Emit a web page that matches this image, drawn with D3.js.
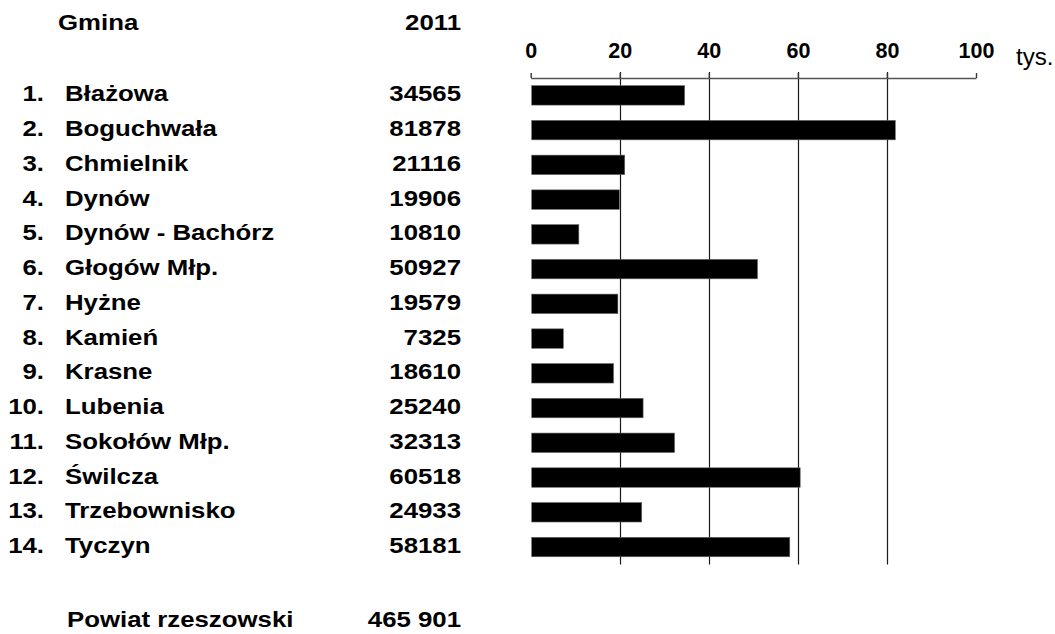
<!DOCTYPE html>
<html>
<head>
<meta charset="utf-8">
<script src="https://cdn.jsdelivr.net/npm/d3@7"></script>
<style>
  html, body { margin: 0; padding: 0; background: #fff; }
  svg { display: block; }
  text { font-family: "Liberation Sans", Arial, sans-serif; fill: #000; }
</style>
</head>
<body>
<svg id="chart" width="1055" height="634"></svg>
<script>
// ---- data ----
const ranks = ["1.", "2.", "3.", "4.", "5.", "6.", "7.", "8.", "9.", "10.", "11.", "12.", "13.", "14."];
const gminy = ["Błażowa", "Boguchwała", "Chmielnik", "Dynów", "Dynów - Bachórz", "Głogów Młp.", "Hyżne",
               "Kamień", "Krasne", "Lubenia", "Sokołów Młp.", "Świlcza", "Trzebownisko", "Tyczyn"];
const values2011 = [34565, 81878, 21116, 19906, 10810, 50927, 19579, 7325, 18610, 25240, 32313, 60518, 24933, 58181];
const tickValues = [0, 20, 40, 60, 80, 100];
const headerName = "Gmina";
const headerYear = "2011";
const unitLabel = "tys.";
const totalName = "Powiat rzeszowski";
const totalValue = "465 901";

// ---- layout ----
const svg = d3.select("#chart");
const SX = 1.2;       // horizontal stretch of the table text
const FS = 21.5;      // table font size

const x = d3.scaleLinear().domain([0, 100]).range([530.7, 976]);
const y = d3.scaleBand().domain(gminy).range([78, 564.4]).paddingInner(0.44).paddingOuter(0.22);

function stretchedText(px, py, str, anchor, opts = {}) {
  const g = svg.append("g").attr("transform", `translate(${px},${py}) scale(${opts.sx || SX},1)`);
  g.append("text")
    .attr("text-anchor", anchor)
    .attr("font-size", opts.fs || FS)
    .attr("font-weight", opts.weight || "bold")
    .text(str);
  return g;
}

// header
stretchedText(58, 30, headerName, "start");
stretchedText(461, 30, headerYear, "end");

// rows
gminy.forEach((g, i) => {
  const cy = y(g) + y.bandwidth() / 2 + 6;
  stretchedText(44, cy, ranks[i], "end");
  stretchedText(65, cy, g, "start");
  stretchedText(461, cy, String(values2011[i]), "end");
});

// footer
stretchedText(67, 627, totalName, "start");
stretchedText(461, 627, totalValue, "end");

// gridlines (20..80)
svg.append("g").selectAll("line")
  .data(tickValues.filter(d => d > 0 && d < 100))
  .join("line")
  .attr("x1", d => Math.round(x(d)) + 0.5)
  .attr("x2", d => Math.round(x(d)) + 0.5)
  .attr("y1", 72)
  .attr("y2", 564.4)
  .attr("stroke", "#1a1a1a")
  .attr("stroke-width", 1.2);

// axis at top
const axis = d3.axisTop(x).tickValues(tickValues).tickSize(5).tickSizeOuter(0).tickPadding(15);
const ag = svg.append("g").attr("transform", "translate(0,78)").call(axis);
ag.select(".domain").attr("stroke", "#555").attr("stroke-width", 1.4);
ag.selectAll(".tick line").attr("stroke", "#333").attr("stroke-width", 1.4);
ag.selectAll(".tick text")
  .attr("font-family", "\"Liberation Sans\", Arial, sans-serif")
  .attr("font-size", 21.5)
  .attr("font-weight", "bold")
  .attr("fill", "#000");

// unit label
stretchedText(1016, 65, unitLabel, "start", { weight: "normal", fs: 23, sx: 1.05 });

// bars
svg.append("g").selectAll("rect")
  .data(gminy)
  .join("rect")
  .attr("x", x(0) + 1)
  .attr("y", d => y(d))
  .attr("width", (d, i) => x(values2011[i] / 1000) - x(0) - 1)
  .attr("height", y.bandwidth())
  .attr("fill", "#000")
  .attr("stroke", "#666")
  .attr("stroke-width", 0.6);
</script>
</body>
</html>
